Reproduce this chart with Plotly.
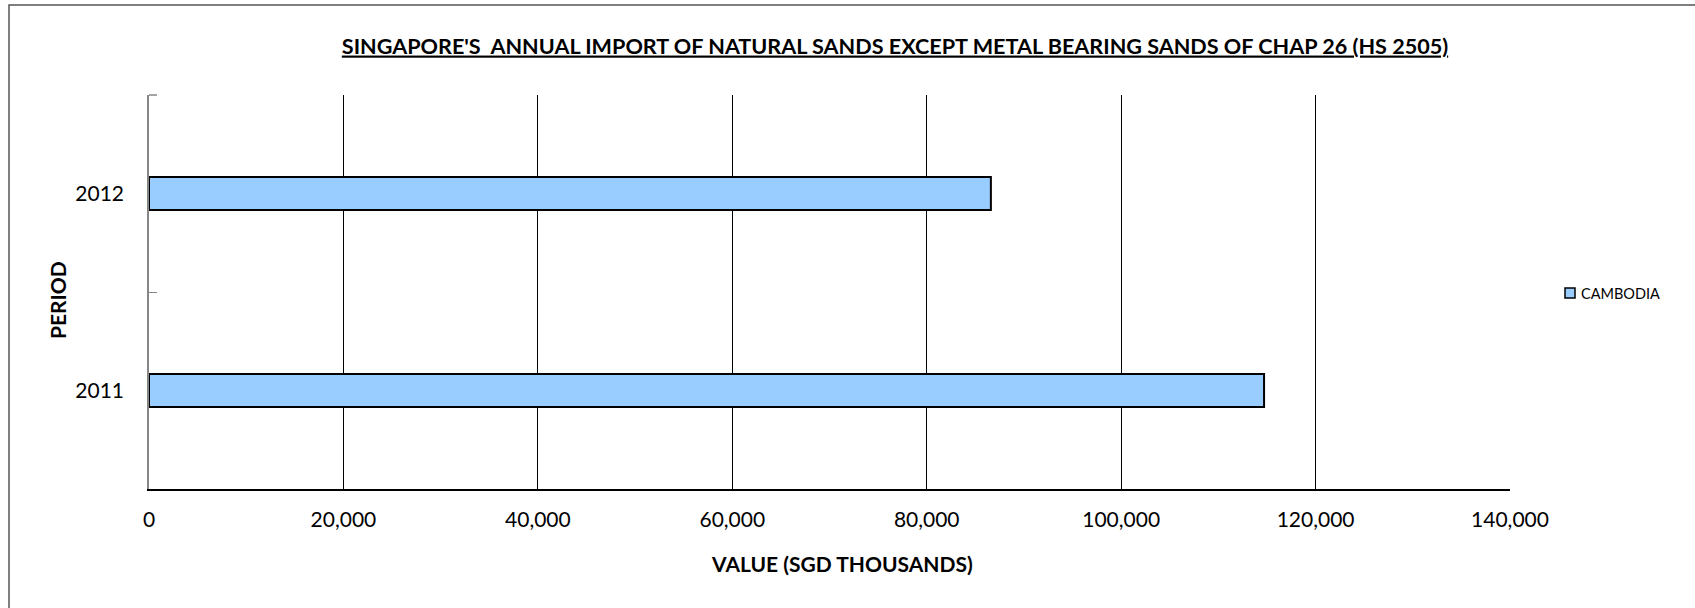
import plotly.graph_objects as go

periods = ["2011", "2012"]
values = [114700, 86600]
series_name = "CAMBODIA"
x_ticks = [0, 20000, 40000, 60000, 80000, 100000, 120000, 140000]

title_text = "SINGAPORE'S\u00a0 ANNUAL IMPORT OF NATURAL SANDS EXCEPT METAL BEARING SANDS OF CHAP 26 (HS 2505)"
x_title = "VALUE (SGD THOUSANDS)"
y_title = "PERIOD"

BAR_COLOR = "#99CCFF"

W, H = 1695, 608
L, R, T, B = 149, 1510, 95, 489
pw, ph = R - L, B - T

def px_x(x):
    return (x - L) / pw

def px_y(y):
    return (B - y) / ph

FONT = "Lato"

fig = go.Figure()
fig.add_trace(go.Bar(
    y=periods, x=values, orientation="h", name=series_name,
    width=0.167,
    marker=dict(color=BAR_COLOR, line=dict(color="black", width=2)),
    showlegend=False,
))

fig.update_layout(
    width=W, height=H,
    margin=dict(l=L, r=W - R, t=T, b=H - B, autoexpand=False),
    paper_bgcolor="white", plot_bgcolor="white",
    font=dict(family=FONT, color="black", size=21),
    title=dict(text="<b><u>" + title_text + "</u></b>", x=895 / W, y=1 - 46 / H,
               xref="container", yref="container", xanchor="center", yanchor="middle",
               font=dict(family=FONT, size=21.6, color="black")),
    xaxis=dict(range=[0, 140000], tickvals=x_ticks, tickformat=",",
               showgrid=True, gridcolor="black", gridwidth=1,
               showline=True, linecolor="black", linewidth=1.5,
               ticks="", ticklabelstandoff=11, zeroline=False,
               tickfont=dict(size=21)),
    yaxis=dict(type="category", categoryorder="array", categoryarray=periods,
               range=[-0.5, 1.5], tickson="boundaries", ticks="inside",
               ticklen=8, tickcolor="#868686", showgrid=False,
               showline=True, linecolor="#868686", linewidth=1.5,
               ticklabelstandoff=19, tickfont=dict(size=21)),
    showlegend=False,
    annotations=[
        dict(text="<b>" + x_title + "</b>", x=px_x(842), y=px_y(563),
             xref="paper", yref="paper", xanchor="center", yanchor="middle",
             showarrow=False, font=dict(size=21)),
        dict(text="<b>" + y_title + "</b>", x=px_x(57), y=px_y(300),
             xref="paper", yref="paper", xanchor="center", yanchor="middle",
             showarrow=False, textangle=-90, font=dict(size=21)),
        dict(text=series_name, x=px_x(1579), y=px_y(293),
             xref="paper", yref="paper", xanchor="left", yanchor="middle",
             showarrow=False, font=dict(size=14.5)),
    ],
    shapes=[
        dict(type="rect", xref="paper", yref="paper",
             x0=px_x(9), x1=px_x(1705), y0=px_y(620), y1=px_y(5),
             line=dict(color="#555555", width=1.5), layer="below"),
        dict(type="rect", xref="paper", yref="paper",
             x0=px_x(1565), x1=px_x(1575), y0=px_y(298), y1=px_y(288),
             fillcolor=BAR_COLOR, line=dict(color="black", width=1.5)),
        dict(type="line", xref="paper", yref="paper",
             x0=0, x1=px_x(157), y0=1, y1=1,
             line=dict(color="#868686", width=1.5)),
    ],
)

fig.write_html("out.html", config={"displayModeBar": False},
               post_script="document.body.style.margin='0';document.body.style.overflow='hidden';")
